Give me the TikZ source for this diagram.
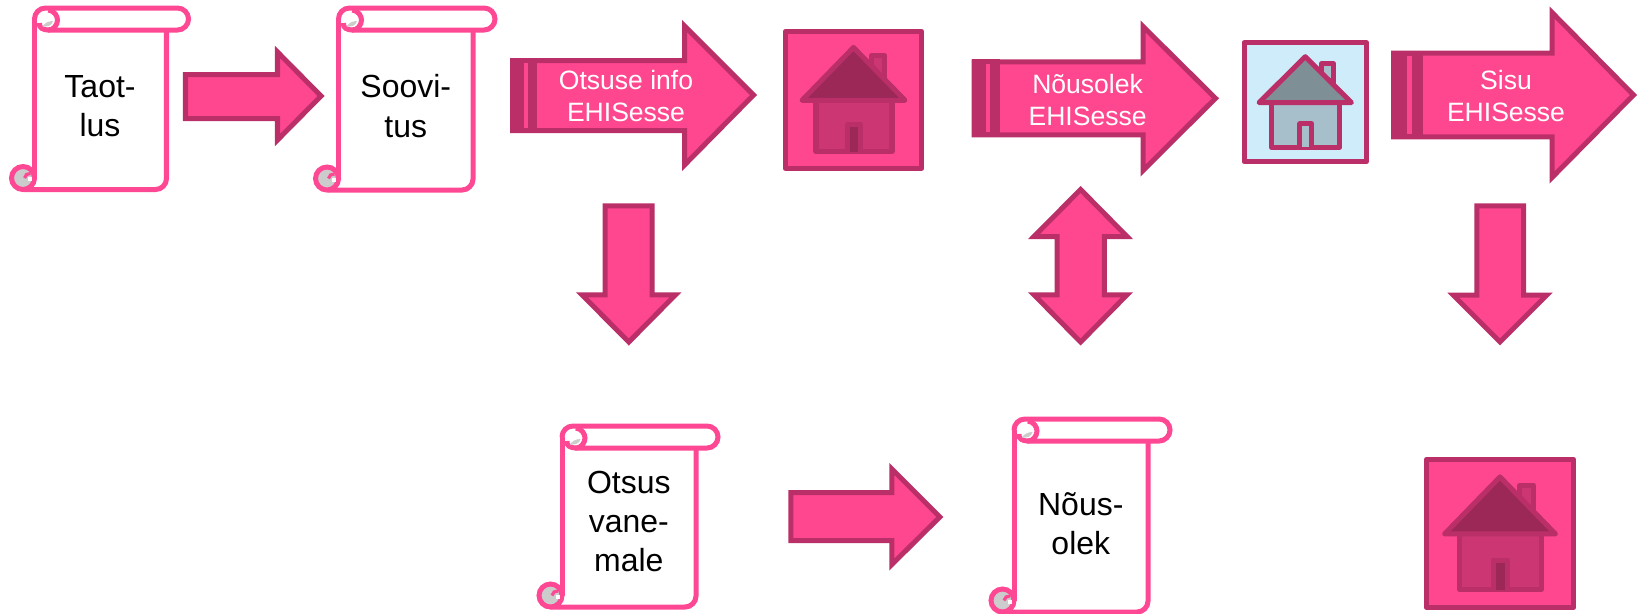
\documentclass[tikz,border=0pt]{standalone}
\usepackage{fontspec}
\setmainfont{Liberation Sans}
\definecolor{arrowfill}{HTML}{FF478F}
\definecolor{arrowedge}{HTML}{BB2F69}
\definecolor{scrolledge}{HTML}{FF4893}
\definecolor{curlgray}{HTML}{CCCCCC}
\definecolor{skyback}{HTML}{CFECFB}
\definecolor{slateroof}{HTML}{7E8F96}
\definecolor{slatewall}{HTML}{A7BECB}
\definecolor{wineroof}{HTML}{9C2858}
\definecolor{rosewall}{HTML}{CB3673}

\tikzstyle{blockarrow}=[draw=arrowedge, fill=arrowfill, line width=2.85pt]
\tikzstyle{scrollline}=[draw=scrolledge, line width=2.85pt]
\tikzstyle{houseline}=[draw=arrowedge, line width=2.85pt, line join=round]
\tikzstyle{scrolltext}=[align=center, font=\fontsize{18.2}{22.3}\selectfont, inner sep=0pt]
\tikzstyle{arrowtext}=[align=center, text=white, font=\fontsize{15.1}{18.5}\selectfont, inner sep=0pt]

% #1 left #2 top #3 right #4 bottom #5 end of the roll
\newcommand{\scrollbox}[5]{%
  \draw[scrollline, rounded corners=.22cm] (#3, #2+20) -- (#3, #4) -- (#1-11, #4);
  \draw[scrollline] (#1, #2+11) -- (#1, #4-11);
  \draw[scrollline, rounded corners=.22cm] (#1, #2+11) -- (#1, #2) -- (#5, #2) -- (#5, #2+22) -- (#1+13, #2+22);
  \draw[scrollline] (#1+14, #2+2) .. controls (#1+20, #2+3) and (#1+23, #2+8) .. (#1+23, #2+12)
    .. controls (#1+23, #2+17) and (#1+19, #2+22) .. (#1+14, #2+22)
    .. controls (#1+9, #2+22) and (#1+4, #2+20) .. (#1+5, #2+15);
  \fill[curlgray] (#1+8, #2+18.5) .. controls (#1+10, #2+15) and (#1+14, #2+13) .. (#1+18.5, #2+13)
    .. controls (#1+17.5, #2+16.5) and (#1+15, #2+18.5) .. (#1+11, #2+18.5) -- cycle;
  \draw[scrollline, fill=curlgray] (#1-11.5, #4-11.5) circle [radius=11.5];
  \fill[white] (#1-6.5, #4-12.5) rectangle (#1-2.5, #4-8.5);
  \draw[draw=scrolledge, line width=1.8pt] (#1-4, #4-16) .. controls (#1-7, #4-16.5) and (#1-9.5, #4-14.5) .. (#1-10, #4-11.5);
}

% #1 left #2 top #3 width #4 height #5 back #6 roof #7 wall #8 door
\newcommand{\housebox}[8]{%
  \begin{scope}[shift={(#1, #2)}, xscale=#3, yscale=#4]
    \draw[houseline, fill=#5] (.016, .016) rectangle (.984, .984);
    \draw[houseline, fill=#7] (.63, .27) -- (.63, .186) -- (.722, .186) -- (.722, .36);
    \draw[houseline, fill=#7] (.234, .503) rectangle (.773, .866);
    \draw[houseline, fill=#6] (.5, .13) -- (.135, .503) -- (.865, .503) -- cycle;
    \draw[houseline, fill=#8] (.457, .866) -- (.457, .676) -- (.549, .676) -- (.549, .866);
  \end{scope}
}

\begin{document}
\begin{tikzpicture}[x=0.02cm, y=-0.02cm]
  \useasboundingbox (0, 0) rectangle (1637, 613);

  % scrolls
  \scrollbox{34.5}{8}{166.5}{189.5}{188.5}
  \scrollbox{338.5}{8}{473}{190}{495}
  \scrollbox{562}{426}{696}{607}{718}
  \scrollbox{1014}{419}{1148}{612}{1170}
  \node[scrolltext] (taotlus) at (100, 106) {Taot-\\lus};
  \node[scrolltext] (soovitus) at (405.8, 106) {Soovi-\\tus};
  \node[scrolltext] (otsus) at (628.8, 521.5) {Otsus\\vane-\\male};
  \node[scrolltext] (nousolek) at (1080.8, 523.5) {Nõus-\\olek};

  % plain arrows
  \draw[blockarrow] (185.5, 74.5) -- (277.5, 74.5) -- (277.5, 52) -- (321, 96) -- (277.5, 140) -- (277.5, 118.5) -- (185.5, 118.5) -- cycle;
  \draw[blockarrow] (790.8, 492.5) -- (891.8, 492.5) -- (891.8, 469) -- (939.8, 517) -- (891.8, 564.5) -- (891.8, 540.5) -- (790.8, 540.5) -- cycle;
  \draw[blockarrow] (605.2, 205.8) -- (652, 205.8) -- (652, 294.8) -- (675.5, 294.8) -- (628.8, 342) -- (582, 294.8) -- (605.2, 294.8) -- cycle;
  \draw[blockarrow] (1476.8, 205.8) -- (1523.5, 205.8) -- (1523.5, 295.2) -- (1546.7, 295.2) -- (1500, 341.8) -- (1453.3, 295.2) -- (1476.8, 295.2) -- cycle;
  \draw[blockarrow] (1080.6, 189.5) -- (1127, 236.5) -- (1104.3, 236.5) -- (1104.3, 294.8) -- (1127, 294.8) -- (1080.6, 342) -- (1034, 294.8) -- (1057, 294.8) -- (1057, 236.5) -- (1034, 236.5) -- cycle;

  % arrows with a band
  \draw[blockarrow] (512.5, 60.5) -- (684.5, 60.5) -- (684.5, 26) -- (753.5, 95) -- (684.5, 165) -- (684.5, 130.5) -- (512.5, 130.5) -- cycle;
  \fill[arrowedge] (510, 58) rectangle (537, 133);
  \fill[arrowfill] (524, 63) rectangle (528, 128);
  \draw[blockarrow] (974.2, 61.8) -- (1143, 61.8) -- (1143, 26.5) -- (1215.5, 98.3) -- (1143, 170.5) -- (1143, 134.8) -- (974.2, 134.8) -- cycle;
  \fill[arrowedge] (971.7, 59.3) rectangle (999.7, 137.3);
  \fill[arrowfill] (986, 64.3) rectangle (990, 132.3);
  \draw[blockarrow] (1393.5, 53.2) -- (1552, 53.2) -- (1552, 12.5) -- (1633.5, 95) -- (1552, 177.5) -- (1552, 136.8) -- (1393.5, 136.8) -- cycle;
  \fill[arrowedge] (1391, 50.7) rectangle (1423, 139.3);
  \fill[arrowfill] (1407, 55.7) rectangle (1412, 134.3);
  \node[arrowtext] (otsuseinfo) at (626, 96) {Otsuse info\\EHISesse};
  \node[arrowtext] (nousolekehis) at (1087.6, 100) {Nõusolek\\EHISesse};
  \node[arrowtext] (sisuehis) at (1506, 96) {Sisu\\EHISesse};

  % houses
  \housebox{783}{29}{141}{141.7}{arrowfill}{wineroof}{rosewall}{wineroof}
  \housebox{1242}{40.7}{126.5}{123}{skyback}{slateroof}{slatewall}{slatewall}
  \housebox{1424}{457}{152}{153}{arrowfill}{wineroof}{rosewall}{wineroof}
\end{tikzpicture}
\end{document}
